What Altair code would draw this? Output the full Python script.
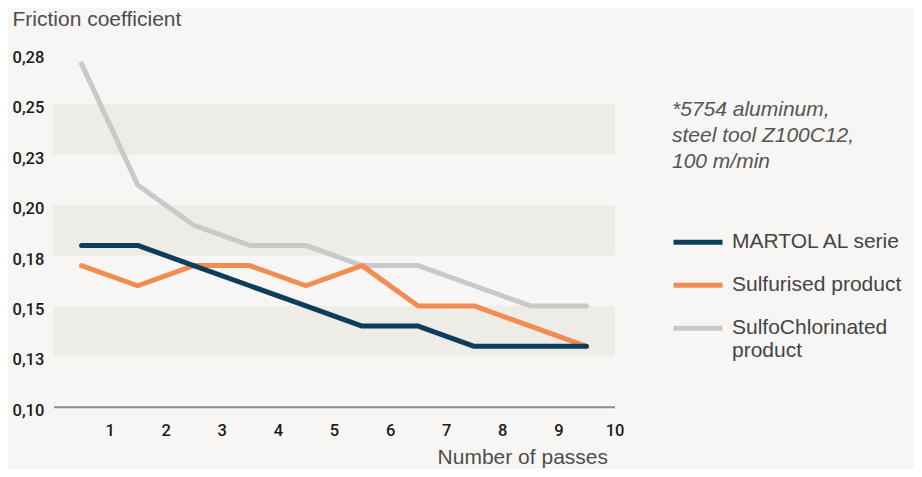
import json
import altair as alt
import pandas as pd

# ---- data ----
passes = list(range(1, 11))
martol = [0.18, 0.18, 0.17, 0.16, 0.15, 0.14, 0.14, 0.13, 0.13, 0.13]
sulfurised = [0.17, 0.16, 0.17, 0.17, 0.16, 0.17, 0.15, 0.15, 0.14, 0.13]
sulfochlorinated = [0.27, 0.21, 0.19, 0.18, 0.18, 0.17, 0.17, 0.16, 0.15, 0.15]

series_names = ["MARTOL AL serie", "Sulfurised product", "SulfoChlorinated product"]
series_colors = ["#0c3d5c", "#f28c52", "#c9c9c9"]

y_ticks = [0.1, 0.125, 0.15, 0.175, 0.2, 0.225, 0.25, 0.275]
y_tick_labels = ["0,10", "0,13", "0,15", "0,18", "0,20", "0,23", "0,25", "0,28"]
x_ticks = list(range(1, 11))

band_lo = [0.125, 0.175, 0.225]
band_hi = [0.15, 0.2, 0.25]

note_lines = ["*5754 aluminum,", "steel tool Z100C12,", "100 m/min"]

# ---- tables ----
rows = []
for name, vals in [(series_names[2], sulfochlorinated),
                   (series_names[1], sulfurised),
                   (series_names[0], martol)]:
    for p, v in zip(passes, vals):
        rows.append({"series": name, "pass": p, "value": v})
df = pd.DataFrame(rows)
bands = pd.DataFrame({"lo": band_lo, "hi": band_hi})

FONT = "Liberation Sans"
TICK_FONT = "Roboto"
W, H = 561, 353
PL, PT = 45.5, 45.8

step = y_ticks[1] - y_ticks[0]
y_label_expr = f"{json.dumps(y_tick_labels)}[round((datum.value - {y_ticks[0]}) / {step})]"
legend_label_expr = "datum.label == 'SulfoChlorinated product' ? ['SulfoChlorinated', 'product'] : datum.label"

y_scale = alt.Scale(domain=[y_ticks[0], y_ticks[-1]], nice=False, zero=False)
x_scale = alt.Scale(domain=[0, 10], nice=False, zero=False)

y_axis = alt.Axis(
    values=y_ticks, labelExpr=y_label_expr, ticks=False, domain=False, grid=False,
    labelAlign="left", labelPadding=41.5, labelOffset=3.5, labelBaseline="middle",
    labelFontSize=16.5, labelFontWeight=500, labelColor="#1a1a1a", labelFont=TICK_FONT,
    title="Friction coefficient", titleFont=FONT, titleFontSize=21,
    titleFontWeight="normal", titleColor="#4d4d4d",
    titleAngle=0, titleAlign="left", titleBaseline="alphabetic",
    titleX=-41.5, titleY=-28,
)
x_axis = alt.Axis(
    values=x_ticks, format="d", ticks=False, grid=False,
    domainColor="#8c8c8c", domainWidth=2,
    labelPadding=16, labelFontSize=16.5, labelFontWeight=500, labelColor="#1a1a1a",
    labelFont=TICK_FONT, labelFlush=False, labelOverlap=False,
    title="Number of passes", titleFont=FONT, titleFontSize=21,
    titleFontWeight="normal", titleColor="#4d4d4d",
    titleAlign="right", titleBaseline="alphabetic", titleAngle=0,
    titleX=554, titleY=57,
)

band_layer = alt.Chart(bands).mark_rect(color="#edece6").encode(
    y=alt.Y("lo:Q", scale=y_scale, axis=y_axis, title="Friction coefficient"),
    y2="hi:Q",
)

line_layer = alt.Chart(df).transform_calculate(
    pos="datum.pass - 0.5"
).mark_line(strokeWidth=5, strokeCap="round", strokeJoin="round").encode(
    x=alt.X("pos:Q", scale=x_scale, axis=x_axis),
    y=alt.Y("value:Q", scale=y_scale, axis=y_axis, title="Friction coefficient"),
    color=alt.Color("series:N", scale=alt.Scale(domain=series_names, range=series_colors),
                    legend=alt.Legend(
                        title=None, orient="none", legendX=609.5, legendY=178,
                        symbolType="M0,0H9.8", symbolSize=100, symbolStrokeWidth=5,
                        labelFont=FONT, labelFontSize=21, labelColor="#444444",
                        labelOffset=48, rowPadding=21, labelExpr=legend_label_expr,
                        labelLimit=400,
                    )),
)

note_layer = alt.Chart(pd.DataFrame({"k": [0]})).mark_text(
    text=note_lines, align="left", baseline="alphabetic", fontStyle="italic",
    font=FONT, fontSize=21, lineHeight=26, color="#555555",
).encode(x=alt.value(618.5), y=alt.value(62))

chart = alt.layer(band_layer, line_layer, note_layer).properties(
    width=W, height=H,
    padding={"left": PL, "top": PT, "right": 906 - PL - W, "bottom": 461 - PT - H},
    autosize=alt.AutoSizeParams(type="none"),
    background="#f7f6f4",
).configure_view(stroke=None)

chart.save("out.html", embed_options={"renderer": "svg", "actions": False})
